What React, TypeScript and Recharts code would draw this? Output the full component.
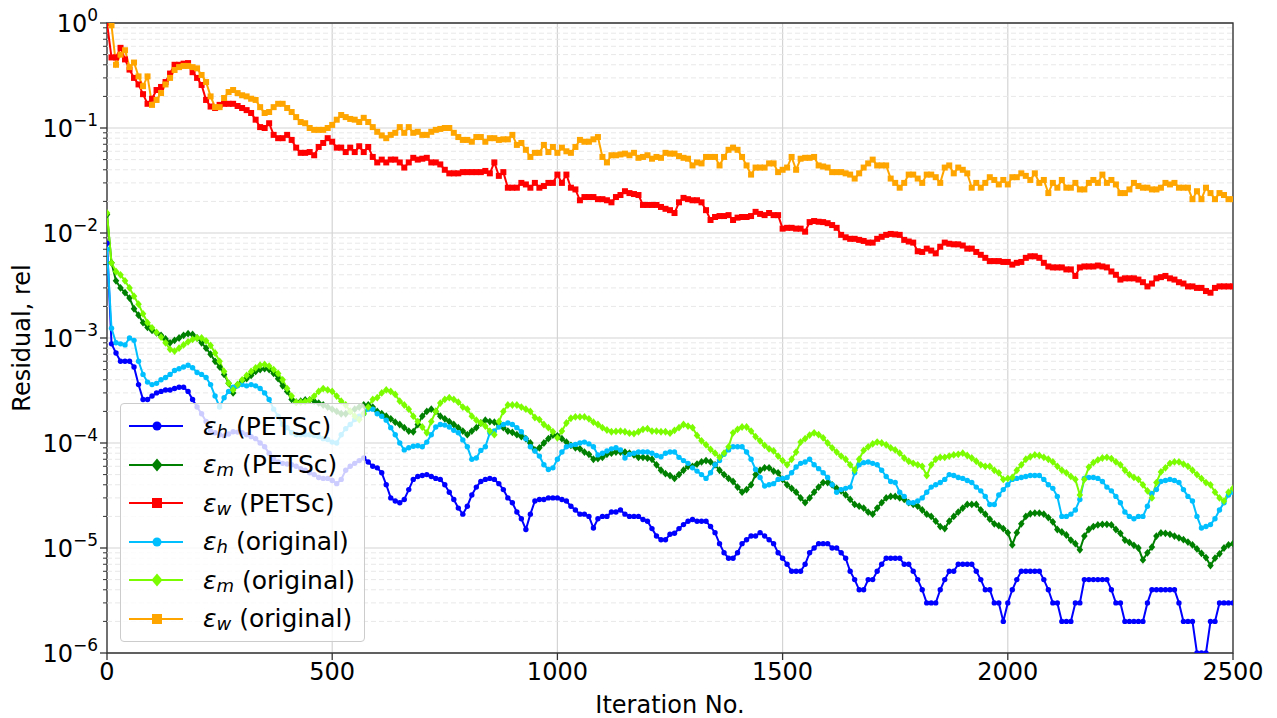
import React from 'react';
import { LineChart, Line, XAxis, YAxis, CartesianGrid, ReferenceLine, ReferenceArea, Legend } from 'recharts';

// iteration numbers, one sample every 10 iterations
const iterations = Array.from({ length: 251 }, (_, i) => i * 10);

const epsHPetsc = [
  8e-3, 8.8e-4, 7.2e-4, 6e-4, 6e-4, 6e-4, 5.3e-4, 3.6e-4, 2.6e-4, 2.6e-4,
  2.8e-4, 3e-4, 3.1e-4, 3.2e-4, 3.2e-4, 3.3e-4, 3.4e-4, 3.4e-4, 3.1e-4, 2.6e-4,
  2.2e-4, 1.9e-4, 1.6e-4, 1.3e-4, 1.25e-4, 1.2e-4, 1.17e-4, 1.22e-4, 1.28e-4, 1.27e-4,
  1.25e-4, 1.2e-4, 1.15e-4, 1.1e-4, 1e-4, 9.2e-5, 8e-5, 7e-5, 6.6e-5, 6.4e-5,
  6.3e-5, 6.2e-5, 6e-5, 5.7e-5, 5.5e-5, 5.2e-5, 5e-5, 4.7e-5, 4.6e-5, 4.6e-5,
  4.4e-5, 4.1e-5, 4.5e-5, 5.5e-5, 6e-5, 6.4e-5, 6.8e-5, 7.2e-5, 6.6e-5, 6e-5,
  5.8e-5, 5.2e-5, 4e-5, 3e-5, 2.8e-5, 2.7e-5, 2.9e-5, 3.6e-5, 4.5e-5, 4.8e-5,
  4.9e-5, 5e-5, 4.8e-5, 4.6e-5, 4.5e-5, 4e-5, 3.4e-5, 2.9e-5, 2.4e-5, 2.1e-5,
  2.5e-5, 3.2e-5, 3.8e-5, 4.3e-5, 4.5e-5, 4.6e-5, 4.5e-5, 4.1e-5, 3.6e-5, 3e-5,
  2.7e-5, 2.2e-5, 1.9e-5, 1.5e-5, 2.1e-5, 2.8e-5, 2.9e-5, 2.9e-5, 3e-5, 3e-5,
  3e-5, 2.9e-5, 2.8e-5, 2.5e-5, 2.3e-5, 2.1e-5, 2.1e-5, 2e-5, 1.55e-5, 1.9e-5,
  2e-5, 2e-5, 2.2e-5, 2.2e-5, 2.3e-5, 2.1e-5, 2e-5, 2e-5, 2e-5, 1.87e-5,
  1.8e-5, 1.53e-5, 1.3e-5, 1.2e-5, 1.2e-5, 1.35e-5, 1.38e-5, 1.53e-5, 1.67e-5, 1.8e-5,
  1.87e-5, 1.8e-5, 1.8e-5, 1.8e-5, 1.6e-5, 1.4e-5, 1.1e-5, 9e-6, 8e-6, 8e-6,
  9e-6, 1.1e-5, 1.2e-5, 1.3e-5, 1.3e-5, 1.4e-5, 1.3e-5, 1.2e-5, 1.1e-5, 9e-6,
  8e-6, 7e-6, 6e-6, 6e-6, 6e-6, 7e-6, 9e-6, 1e-5, 1.1e-5, 1.1e-5,
  1.1e-5, 1e-5, 1e-5, 9e-6, 8e-6, 6e-6, 5e-6, 4e-6, 4e-6, 5e-6,
  5e-6, 6e-6, 7e-6, 8e-6, 8e-6, 8e-6, 8e-6, 7e-6, 7e-6, 6e-6,
  5e-6, 4e-6, 3e-6, 3e-6, 3e-6, 4e-6, 5e-6, 6e-6, 6e-6, 7e-6,
  7e-6, 7e-6, 7e-6, 6e-6, 5e-6, 4e-6, 4e-6, 3e-6, 3e-6, 2e-6,
  3e-6, 4e-6, 5e-6, 6e-6, 6e-6, 6e-6, 6e-6, 6e-6, 5e-6, 4e-6,
  3e-6, 3e-6, 2e-6, 2e-6, 2e-6, 3e-6, 3e-6, 5e-6, 5e-6, 5e-6,
  5e-6, 5e-6, 5e-6, 4e-6, 3e-6, 3e-6, 2e-6, 2e-6, 2e-6, 2e-6,
  2e-6, 3e-6, 4e-6, 4e-6, 4e-6, 4e-6, 4e-6, 4e-6, 3e-6, 2e-6,
  2e-6, 2e-6, 1e-6, 1e-6, 1e-6, 2e-6, 2e-6, 3e-6, 3e-6, 3e-6,
  3e-6,
];

const epsMPetsc = [
  1.5e-2, 5.2e-3, 3.5e-3, 3e-3, 2.7e-3, 2.4e-3, 1.9e-3, 1.65e-3, 1.4e-3, 1.26e-3,
  1.18e-3, 1.12e-3, 1.06e-3, 9.8e-4, 9e-4, 9.5e-4, 1e-3, 1.06e-3, 1.1e-3, 1.08e-3,
  1e-3, 9e-4, 8e-4, 7e-4, 6e-4, 5.3e-4, 4.5e-4, 3.7e-4, 3e-4, 3.6e-4,
  3.9e-4, 4.1e-4, 4.4e-4, 4.8e-4, 5e-4, 5.1e-4, 5e-4, 4.6e-4, 4.1e-4, 3.5e-4,
  3.1e-4, 2.6e-4, 2.45e-4, 2.5e-4, 2.57e-4, 2.57e-4, 2.5e-4, 2.4e-4, 2.3e-4, 2.2e-4,
  2.1e-4, 2e-4, 1.9e-4, 1.9e-4, 2e-4, 2.1e-4, 2.2e-4, 2.3e-4, 2.3e-4, 2.2e-4,
  2e-4, 1.9e-4, 1.8e-4, 1.7e-4, 1.58e-4, 1.5e-4, 1.4e-4, 1.3e-4, 1.28e-4, 1.5e-4,
  1.8e-4, 2e-4, 2.1e-4, 2e-4, 1.8e-4, 1.7e-4, 1.6e-4, 1.5e-4, 1.4e-4, 1.3e-4,
  1.2e-4, 1.3e-4, 1.4e-4, 1.55e-4, 1.65e-4, 1.6e-4, 1.58e-4, 1.5e-4, 1.4e-4, 1.3e-4,
  1.26e-4, 1.2e-4, 1.15e-4, 1.1e-4, 1e-4, 8.6e-5, 9e-5, 1e-4, 1.1e-4, 1.19e-4,
  1.17e-4, 1.1e-4, 1.02e-4, 9.5e-5, 9e-5, 8.8e-5, 8.2e-5, 7.8e-5, 7e-5, 7.1e-5,
  7.3e-5, 7.8e-5, 8e-5, 8.2e-5, 8.2e-5, 8.2e-5, 8e-5, 7.7e-5, 7.3e-5, 7.3e-5,
  7.2e-5, 7e-5, 6.2e-5, 5.5e-5, 5.1e-5, 4.9e-5, 4.6e-5, 5e-5, 5.5e-5, 6e-5,
  6e-5, 6.3e-5, 6.6e-5, 6.8e-5, 6.6e-5, 6.2e-5, 5.5e-5, 5e-5, 4.6e-5, 4.3e-5,
  3.8e-5, 3.4e-5, 3.6e-5, 4e-5, 5e-5, 5.5e-5, 5.8e-5, 5.8e-5, 5.4e-5, 5.2e-5,
  4.5e-5, 4e-5, 3.7e-5, 3.4e-5, 3e-5, 2.7e-5, 3e-5, 3.4e-5, 3.8e-5, 4.2e-5,
  4.2e-5, 4e-5, 3.7e-5, 3.5e-5, 3.2e-5, 2.9e-5, 2.6e-5, 2.5e-5, 2.4e-5, 2.2e-5,
  2.1e-5, 2.4e-5, 2.7e-5, 3e-5, 3.1e-5, 3.1e-5, 3e-5, 2.9e-5, 2.7e-5, 2.6e-5,
  2.5e-5, 2.3e-5, 2.1e-5, 2e-5, 1.8e-5, 1.6e-5, 1.53e-5, 1.8e-5, 2e-5, 2.2e-5,
  2.4e-5, 2.6e-5, 2.6e-5, 2.6e-5, 2.3e-5, 2.1e-5, 1.88e-5, 1.7e-5, 1.63e-5, 1.53e-5,
  1.4e-5, 1.07e-5, 1.4e-5, 1.7e-5, 2e-5, 2.12e-5, 2.15e-5, 2.15e-5, 2.1e-5, 1.95e-5,
  1.77e-5, 1.5e-5, 1.42e-5, 1.33e-5, 1.19e-5, 1.1e-5, 9.6e-6, 1.3e-5, 1.5e-5, 1.6e-5,
  1.66e-5, 1.68e-5, 1.68e-5, 1.66e-5, 1.5e-5, 1.38e-5, 1.19e-5, 1.13e-5, 1.06e-5, 1e-5,
  7.7e-6, 9e-6, 1.02e-5, 1.3e-5, 1.39e-5, 1.38e-5, 1.35e-5, 1.3e-5, 1.25e-5, 1.2e-5,
  1.14e-5, 1.07e-5, 9.8e-6, 8.9e-6, 8.1e-6, 6.8e-6, 8e-6, 8.8e-6, 1e-5, 1.07e-5,
  1.1e-5,
];

const epsWPetsc = [
  1.0, 0.47, 0.47, 0.58, 0.45, 0.36, 0.30, 0.26, 0.21, 0.17,
  0.19, 0.23, 0.246, 0.274, 0.33, 0.40, 0.40, 0.41, 0.415, 0.34,
  0.30, 0.257, 0.185, 0.16, 0.155, 0.166, 0.17, 0.17, 0.17, 0.162,
  0.155, 0.148, 0.139, 0.12, 0.102, 0.10, 0.111, 0.086, 0.08, 0.08,
  0.086, 0.077, 0.065, 0.058, 0.058, 0.059, 0.055, 0.066, 0.072, 0.08,
  0.074, 0.065, 0.065, 0.059, 0.065, 0.059, 0.067, 0.059, 0.066, 0.053,
  0.047, 0.05, 0.047, 0.05, 0.05, 0.047, 0.042, 0.047, 0.052, 0.05,
  0.051, 0.052, 0.047, 0.047, 0.045, 0.04, 0.037, 0.037, 0.037, 0.038,
  0.038, 0.038, 0.038, 0.038, 0.039, 0.037, 0.047, 0.035, 0.038, 0.027,
  0.027, 0.027, 0.03, 0.029, 0.027, 0.03, 0.027, 0.028, 0.03, 0.03,
  0.036, 0.03, 0.036, 0.027, 0.026, 0.0205, 0.022, 0.022, 0.022, 0.021,
  0.021, 0.0205, 0.0196, 0.022, 0.023, 0.025, 0.024, 0.0235, 0.023, 0.0185,
  0.0185, 0.0185, 0.0185, 0.0177, 0.017, 0.0165, 0.0155, 0.0196, 0.0216, 0.021,
  0.0205, 0.0205, 0.0196, 0.0165, 0.0133, 0.0142, 0.0145, 0.0145, 0.0148, 0.0133,
  0.014, 0.0142, 0.0142, 0.0145, 0.0159, 0.0152, 0.0148, 0.0155, 0.0148, 0.0148,
  0.011, 0.0112, 0.0112, 0.011, 0.011, 0.0103, 0.0127, 0.013, 0.0128, 0.0127,
  0.0124, 0.0119, 0.0112, 0.0096, 0.0091, 0.0088, 0.0088, 0.0086, 0.0084, 0.0081,
  0.0081, 0.0088, 0.0092, 0.0096, 0.0098, 0.0097, 0.0096, 0.0086, 0.0083, 0.0081,
  0.0067, 0.0066, 0.0071, 0.0068, 0.0064, 0.0074, 0.0081, 0.0079, 0.0078, 0.0078,
  0.0076, 0.0071, 0.0071, 0.0066, 0.0062, 0.0058, 0.0054, 0.0054, 0.0054, 0.0053,
  0.0053, 0.005, 0.0052, 0.0053, 0.0058, 0.006, 0.006, 0.0058, 0.0052, 0.0048,
  0.0047, 0.0047, 0.0047, 0.0045, 0.0045, 0.0039, 0.0047, 0.0048, 0.0048, 0.0048,
  0.0049, 0.0048, 0.0047, 0.0043, 0.004, 0.0036, 0.0037, 0.0037, 0.0037, 0.0036,
  0.0034, 0.0031, 0.0033, 0.0037, 0.0038, 0.0039, 0.0037, 0.0036, 0.0034, 0.0033,
  0.0031, 0.0031, 0.003, 0.003, 0.0028, 0.0027, 0.003, 0.0031, 0.0031, 0.0031,
  0.0031,
];

const epsHOrig = [
  7e-3, 1.24e-3, 9e-4, 8.8e-4, 8.6e-4, 1e-3, 9.5e-4, 6e-4, 4.5e-4, 3.8e-4,
  3.6e-4, 3.7e-4, 4e-4, 4.2e-4, 4.5e-4, 4.9e-4, 5.1e-4, 5.3e-4, 5.5e-4, 5.2e-4,
  4.7e-4, 4.5e-4, 4.2e-4, 3.6e-4, 2.8e-4, 2.2e-4, 2.7e-4, 3.1e-4, 3.4e-4, 3.5e-4,
  3.6e-4, 3.5e-4, 3.6e-4, 3.5e-4, 3.3e-4, 3e-4, 2.6e-4, 2.1e-4, 1.8e-4, 1.5e-4,
  1.4e-4, 1.25e-4, 1.2e-4, 1.2e-4, 1.2e-4, 1.2e-4, 1.18e-4, 1.15e-4, 1.1e-4, 1.08e-4,
  1.02e-4, 1e-4, 1.2e-4, 1.37e-4, 1.5e-4, 1.67e-4, 1.8e-4, 1.9e-4, 2.1e-4, 2.1e-4,
  1.9e-4, 1.8e-4, 1.65e-4, 1.4e-4, 1.2e-4, 1e-4, 8.6e-5, 9e-5, 9.3e-5, 9.4e-5,
  9.2e-5, 1.02e-4, 1.2e-4, 1.42e-4, 1.5e-4, 1.48e-4, 1.42e-4, 1.32e-4, 1.25e-4, 1.07e-4,
  9.2e-5, 7e-5, 7.2e-5, 8.5e-5, 9.2e-5, 1.25e-4, 1.3e-4, 1.42e-4, 1.5e-4, 1.55e-4,
  1.5e-4, 1.4e-4, 1.28e-4, 1.1e-4, 9.2e-5, 8.4e-5, 7.5e-5, 6.2e-5, 5.6e-5, 5.8e-5,
  7e-5, 8.2e-5, 9.2e-5, 9.5e-5, 9.7e-5, 1e-4, 1.02e-4, 9.8e-5, 9.2e-5, 7.7e-5,
  8e-5, 8.4e-5, 8.8e-5, 9e-5, 8.6e-5, 7.2e-5, 7.8e-5, 8e-5, 8.2e-5, 8.2e-5,
  8.2e-5, 8e-5, 7.6e-5, 7.4e-5, 8e-5, 8.2e-5, 8.2e-5, 7.3e-5, 6.8e-5, 6.4e-5,
  5.8e-5, 5.4e-5, 5e-5, 4.6e-5, 5.2e-5, 6.2e-5, 6.8e-5, 7.8e-5, 8.6e-5, 9.2e-5,
  9.2e-5, 9.2e-5, 8.2e-5, 7e-5, 5.6e-5, 4.7e-5, 3.9e-5, 4e-5, 4.1e-5, 4.5e-5,
  4.6e-5, 4.7e-5, 5.2e-5, 5.9e-5, 6.4e-5, 6.6e-5, 7e-5, 6.2e-5, 5.7e-5, 5.2e-5,
  4.7e-5, 4e-5, 3.4e-5, 3.6e-5, 3.7e-5, 3.8e-5, 5.2e-5, 6.2e-5, 6.5e-5, 6.6e-5,
  6.4e-5, 6.2e-5, 5.5e-5, 4.8e-5, 4.3e-5, 4.2e-5, 3.4e-5, 3.1e-5, 2.7e-5, 2.7e-5,
  2.8e-5, 3e-5, 3.4e-5, 3.8e-5, 4e-5, 4.2e-5, 4.5e-5, 5e-5, 4.9e-5, 4.7e-5,
  4.6e-5, 4.4e-5, 4.2e-5, 3.8e-5, 3.5e-5, 3.1e-5, 2.6e-5, 2.6e-5, 3.2e-5, 3.6e-5,
  4e-5, 4.5e-5, 4.6e-5, 4.7e-5, 4.8e-5, 4.9e-5, 4.9e-5, 4.9e-5, 4.5e-5, 4e-5,
  3.7e-5, 3.1e-5, 2e-5, 2e-5, 2.1e-5, 2.3e-5, 2.9e-5, 4.6e-5, 4.7e-5, 4.7e-5,
  4.6e-5, 4.3e-5, 3.8e-5, 3.5e-5, 3.1e-5, 2.7e-5, 2.2e-5, 2e-5, 1.9e-5, 2e-5,
  2e-5, 2.5e-5, 3.3e-5, 3.6e-5, 4.3e-5, 4.4e-5, 4.5e-5, 4.4e-5, 4.2e-5, 3.6e-5,
  3.1e-5, 2.8e-5, 2e-5, 1.55e-5, 1.6e-5, 1.67e-5, 1.9e-5, 2.3e-5, 2.7e-5, 3.2e-5,
  3.4e-5,
];

const epsMOrig = [
  1.55e-2, 5.2e-3, 4.3e-3, 4e-3, 3.5e-3, 3e-3, 2.5e-3, 2.1e-3, 1.7e-3, 1.4e-3,
  1.25e-3, 1.13e-3, 1.02e-3, 9e-4, 7.8e-4, 7.5e-4, 8e-4, 8.6e-4, 9.2e-4, 9.7e-4,
  1e-3, 1e-3, 9.4e-4, 8.5e-4, 7.2e-4, 6e-4, 4.8e-4, 3.7e-4, 3.2e-4, 3.6e-4,
  4e-4, 4.4e-4, 4.8e-4, 5.2e-4, 5.5e-4, 5.6e-4, 5.4e-4, 5e-4, 4.6e-4, 4e-4,
  3.3e-4, 2.8e-4, 2.45e-4, 2.45e-4, 2.48e-4, 2.57e-4, 2.8e-4, 3.1e-4, 3.3e-4, 3.2e-4,
  3.1e-4, 2.8e-4, 2.5e-4, 2.3e-4, 2e-4, 1.8e-4, 1.67e-4, 1.9e-4, 2.2e-4, 2.6e-4,
  2.7e-4, 3e-4, 3.2e-4, 3.1e-4, 2.9e-4, 2.5e-4, 2.3e-4, 2.1e-4, 1.8e-4, 1.6e-4,
  1.42e-4, 1.25e-4, 1.6e-4, 2e-4, 2.4e-4, 2.6e-4, 2.7e-4, 2.6e-4, 2.45e-4, 2.2e-4,
  2.1e-4, 1.8e-4, 1.65e-4, 1.55e-4, 1.45e-4, 1.3e-4, 1.2e-4, 1.6e-4, 2e-4, 2.3e-4,
  2.3e-4, 2.3e-4, 2.2e-4, 2.1e-4, 2e-4, 1.75e-4, 1.67e-4, 1.5e-4, 1.4e-4, 1.28e-4,
  1.12e-4, 1.3e-4, 1.55e-4, 1.72e-4, 1.77e-4, 1.77e-4, 1.77e-4, 1.7e-4, 1.58e-4, 1.5e-4,
  1.4e-4, 1.33e-4, 1.28e-4, 1.29e-4, 1.3e-4, 1.28e-4, 1.24e-4, 1.23e-4, 1.28e-4, 1.35e-4,
  1.37e-4, 1.3e-4, 1.3e-4, 1.28e-4, 1.28e-4, 1.24e-4, 1.32e-4, 1.4e-4, 1.5e-4, 1.45e-4,
  1.4e-4, 1.18e-4, 1.05e-4, 9.6e-5, 8.7e-5, 8e-5, 7.3e-5, 8e-5, 9.2e-5, 1.25e-4,
  1.35e-4, 1.42e-4, 1.42e-4, 1.3e-4, 1.15e-4, 1.05e-4, 9.5e-5, 8.8e-5, 8.4e-5, 7.5e-5,
  6.8e-5, 6.2e-5, 7e-5, 8.2e-5, 1.02e-4, 1.1e-4, 1.19e-4, 1.25e-4, 1.2e-4, 1.12e-4,
  1e-4, 9e-5, 8.2e-5, 7.5e-5, 7e-5, 6.2e-5, 5.5e-5, 7e-5, 8.5e-5, 9.2e-5,
  9.8e-5, 1.02e-4, 1e-4, 9.6e-5, 9e-5, 8.6e-5, 8e-5, 7.2e-5, 6.7e-5, 6.4e-5,
  6.2e-5, 6e-5, 4.9e-5, 6.2e-5, 7e-5, 7.3e-5, 7.3e-5, 7.5e-5, 7.7e-5, 7.8e-5,
  8e-5, 7.6e-5, 7.2e-5, 6.7e-5, 6.2e-5, 6e-5, 6e-5, 5.5e-5, 5.2e-5, 4.5e-5,
  4.6e-5, 4.7e-5, 5.5e-5, 6.2e-5, 7e-5, 7.4e-5, 7.7e-5, 7.6e-5, 7.3e-5, 7e-5,
  6.6e-5, 6e-5, 5.5e-5, 5.2e-5, 4.8e-5, 4.5e-5, 3.2e-5, 4.5e-5, 5.9e-5, 6.5e-5,
  6.9e-5, 7.2e-5, 7.3e-5, 7.1e-5, 6.6e-5, 6.2e-5, 5.5e-5, 5e-5, 4.7e-5, 4.5e-5,
  4e-5, 3.5e-5, 3e-5, 4.2e-5, 5.3e-5, 5.8e-5, 6.4e-5, 6.6e-5, 6.6e-5, 6.3e-5,
  6e-5, 5.5e-5, 5e-5, 4.6e-5, 4.2e-5, 4e-5, 3.4e-5, 3e-5, 2.8e-5, 3.4e-5,
  3.7e-5,
];

const epsWOrig = [
  1.2, 0.95, 0.40, 0.50, 0.55, 0.38, 0.42, 0.31, 0.25, 0.31,
  0.166, 0.185, 0.215, 0.26, 0.30, 0.357, 0.38, 0.39, 0.39, 0.38,
  0.37, 0.32, 0.274, 0.20, 0.158, 0.158, 0.193, 0.22, 0.23, 0.215,
  0.205, 0.20, 0.19, 0.185, 0.158, 0.139, 0.142, 0.158, 0.17, 0.17,
  0.155, 0.142, 0.127, 0.114, 0.111, 0.10, 0.096, 0.096, 0.096, 0.10,
  0.107, 0.12, 0.133, 0.127, 0.122, 0.12, 0.114, 0.125, 0.114, 0.102,
  0.092, 0.085, 0.08, 0.086, 0.09, 0.102, 0.09, 0.102, 0.09, 0.092,
  0.086, 0.086, 0.092, 0.096, 0.098, 0.10, 0.10, 0.09, 0.082, 0.077,
  0.077, 0.074, 0.082, 0.082, 0.074, 0.08, 0.08, 0.077, 0.078, 0.078,
  0.086, 0.069, 0.072, 0.062, 0.053, 0.058, 0.058, 0.069, 0.059, 0.066,
  0.058, 0.065, 0.06, 0.058, 0.066, 0.077, 0.074, 0.074, 0.078, 0.082,
  0.053, 0.047, 0.055, 0.055, 0.056, 0.057, 0.055, 0.058, 0.052, 0.053,
  0.055, 0.051, 0.053, 0.052, 0.058, 0.057, 0.057, 0.054, 0.052, 0.051,
  0.044, 0.047, 0.046, 0.053, 0.053, 0.053, 0.044, 0.053, 0.062, 0.065,
  0.062, 0.053, 0.044, 0.036, 0.042, 0.042, 0.042, 0.046, 0.046, 0.038,
  0.04, 0.042, 0.053, 0.04, 0.051, 0.052, 0.052, 0.053, 0.044, 0.043,
  0.042, 0.038, 0.038, 0.038, 0.037, 0.036, 0.033, 0.037, 0.042, 0.046,
  0.05, 0.044, 0.044, 0.044, 0.033, 0.03, 0.027, 0.03, 0.036, 0.036,
  0.033, 0.03, 0.036, 0.036, 0.034, 0.03, 0.042, 0.044, 0.037, 0.042,
  0.04, 0.037, 0.027, 0.03, 0.027, 0.03, 0.034, 0.032, 0.029, 0.032,
  0.029, 0.034, 0.034, 0.037, 0.035, 0.032, 0.037, 0.03, 0.032, 0.024,
  0.03, 0.027, 0.032, 0.027, 0.027, 0.03, 0.026, 0.026, 0.03, 0.032,
  0.03, 0.036, 0.03, 0.032, 0.029, 0.024, 0.024, 0.026, 0.03, 0.028,
  0.027, 0.027, 0.026, 0.026, 0.027, 0.03, 0.029, 0.03, 0.027, 0.027,
  0.027, 0.021, 0.025, 0.021, 0.027, 0.024, 0.021, 0.024, 0.023, 0.021,
  0.021,
];

const xTicks = [0, 500, 1000, 1500, 2000, 2500];
const yMajor = [1e-6, 1e-5, 1e-4, 1e-3, 1e-2, 1e-1, 1];
const yMinor: number[] = [];
for (let e = -6; e < 0; e++) {
  for (let m = 2; m <= 9; m++) yMinor.push(m * Math.pow(10, e));
}
const yAll = [...yMajor, ...yMinor].sort((a, b) => a - b);

const series = [
  { key: 'hP', sub: 'h', tag: 'PETSc', color: '#0000ff', marker: 'circle', values: epsHPetsc },
  { key: 'mP', sub: 'm', tag: 'PETSc', color: '#008000', marker: 'diamond', values: epsMPetsc },
  { key: 'wP', sub: 'w', tag: 'PETSc', color: '#ff0000', marker: 'square', values: epsWPetsc },
  { key: 'hO', sub: 'h', tag: 'original', color: '#00bfff', marker: 'circle', values: epsHOrig },
  { key: 'mO', sub: 'm', tag: 'original', color: '#7cfc00', marker: 'diamond', values: epsMOrig },
  { key: 'wO', sub: 'w', tag: 'original', color: '#ffa500', marker: 'square', values: epsWOrig },
];

const data = iterations.map((it, i) => {
  const row: Record<string, number> = { it };
  series.forEach((s) => { row[s.key] = s.values[i]; });
  return row;
});

const FONT = 'DejaVu Sans, sans-serif';
const AXIS = '#333';

function markerShape(shape: string, color: string, cx: number, cy: number, s: number, key?: string) {
  if (shape === 'square') {
    return <rect key={key} x={cx - s} y={cy - s} width={2 * s} height={2 * s} fill={color} />;
  }
  if (shape === 'diamond') {
    const h = s * 1.3;
    return <path key={key} d={`M${cx},${cy - h}L${cx + s * 1.1},${cy}L${cx},${cy + h}L${cx - s * 1.1},${cy}Z`} fill={color} />;
  }
  return <circle key={key} cx={cx} cy={cy} r={s * 0.9} fill={color} />;
}

function makeDot(shape: string, color: string) {
  return (props: any) => {
    const { cx, cy, index } = props;
    const k = `${shape}-${color}-${index}`;
    if (cx == null || cy == null || isNaN(cy)) return <g key={k} />;
    return markerShape(shape, color, cx, cy, 3, k);
  };
}

const YTick = (props: any) => {
  const { x, y, payload } = props;
  const v = payload.value;
  const major = yMajor.some((m) => Math.abs(v / m - 1) < 1e-6);
  const ax = x + 9;
  const e = Math.round(Math.log10(v));
  const exp = e < 0 ? '\u2212' + -e : String(e);
  return (
    <g>
      <line x1={ax - (major ? 7 : 4)} x2={ax} y1={y} y2={y} stroke={AXIS} strokeWidth={major ? 1.3 : 1} />
      {major && (
        <text x={x} y={y + 9} textAnchor="end" fill="#000" fontFamily={FONT} fontSize={24}>
          10<tspan dy={-11} fontSize={17}>{exp}</tspan>
        </text>
      )}
    </g>
  );
};

const XTick = (props: any) => {
  const { x, y, payload } = props;
  return (
    <text x={x} y={y + 18} textAnchor="middle" fill="#000" fontFamily={FONT} fontSize={24}>
      {payload.value}
    </text>
  );
};

const XTitle = () => (
  <text x={670} y={713} textAnchor="middle" fill="#000" fontFamily={FONT} fontSize={24}>
    Iteration No.
  </text>
);

const YTitle = () => (
  <text x={22} y={338} transform="rotate(-90 22 338)" textAnchor="middle" dominantBaseline="central" fill="#000" fontFamily={FONT} fontSize={24}>
    Residual, rel
  </text>
);

const LegendBox = () => (
  <div
    style={{
      width: 245,
      height: 239,
      boxSizing: 'border-box',
      background: 'rgba(255,255,255,0.8)',
      border: '1px solid #cccccc',
      borderRadius: 4,
      paddingTop: 3,
      fontFamily: FONT,
      fontSize: 25,
      color: '#000',
    }}
  >
    {series.map((s) => (
      <div key={s.key} style={{ display: 'flex', alignItems: 'center', height: 38.5, whiteSpace: 'nowrap' }}>
        <svg width={82} height={24} style={{ flex: 'none' }}>
          <line x1={8} x2={62} y1={12} y2={12} stroke={s.color} strokeWidth={2} />
          {markerShape(s.marker, s.color, 36, 12, 5)}
        </svg>
        <span style={{ fontStyle: 'italic' }}>ε</span>
        <span style={{ fontStyle: 'italic', fontSize: 18, position: 'relative', top: 5 }}>{s.sub}</span>
        <span>&nbsp;({s.tag})</span>
      </div>
    ))}
  </div>
);

export default function App() {
  return (
    <div style={{ position: 'absolute', left: 0, top: 0, width: 1277, height: 718, background: '#fff' }}>
      <LineChart width={1277} height={718} data={data} margin={{ top: 23, right: 44, left: 7, bottom: 5 }}>
        <CartesianGrid stroke="#d4d4d4" strokeWidth={1.2} horizontalValues={yMajor} verticalValues={xTicks} />
        {yMinor.map((v) => (
          <ReferenceLine key={v} y={v} stroke="#e8e8e8" strokeWidth={1} strokeDasharray="5 3" />
        ))}
        <XAxis
          dataKey="it"
          type="number"
          domain={[0, 2500]}
          ticks={xTicks}
          interval={0}
          allowDataOverflow
          height={60}
          tickSize={7}
          tickMargin={2}
          tickLine={{ stroke: AXIS, strokeWidth: 1.3 }}
          axisLine={false}
          tick={XTick}
          label={<XTitle />}
        />
        <YAxis
          type="number"
          scale="log"
          domain={[1e-6, 1]}
          ticks={yAll}
          interval={0}
          allowDataOverflow
          width={100}
          tickSize={7}
          tickMargin={2}
          tickLine={false}
          axisLine={false}
          tick={YTick}
          label={<YTitle />}
        />
        {series.map((s) => (
          <Line
            key={s.key}
            dataKey={s.key}
            type="linear"
            stroke={s.color}
            strokeWidth={2}
            dot={makeDot(s.marker, s.color)}
            activeDot={false}
            isAnimationActive={false}
          />
        ))}
        <ReferenceArea x1={0} x2={2500} y1={1e-6} y2={1} fill="none" stroke={AXIS} strokeWidth={1.3} ifOverflow="visible" />
        <Legend
          layout="vertical"
          align="center"
          verticalAlign="middle"
          wrapperStyle={{ left: 120, top: 403, width: 245, height: 239 }}
          content={() => <LegendBox />}
        />
      </LineChart>
    </div>
  );
}
